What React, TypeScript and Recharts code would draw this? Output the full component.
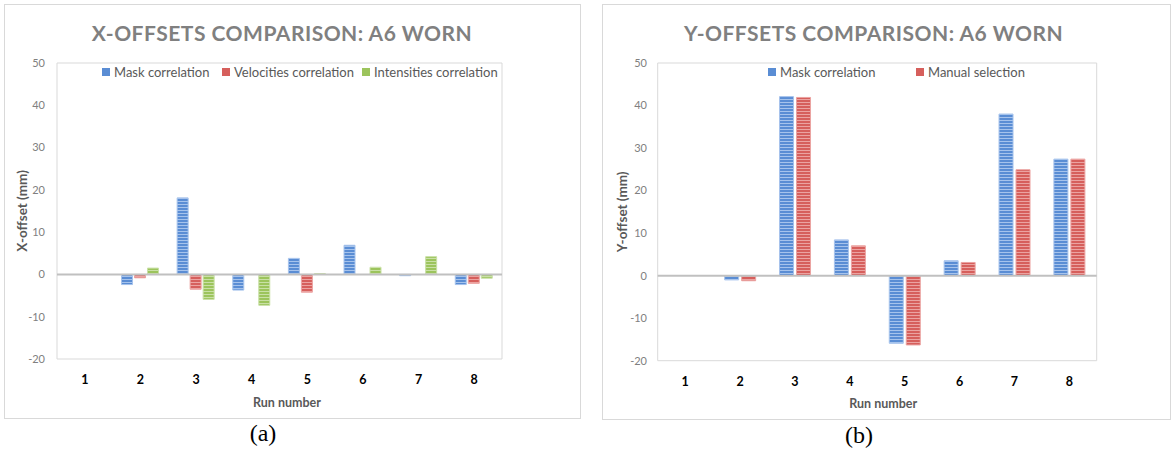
import React from 'react';
import { BarChart, Bar, XAxis, YAxis, ReferenceLine, ReferenceArea } from 'recharts';

// ---------- data ----------
const runs = ['1', '2', '3', '4', '5', '6', '7', '8'];
const yTicks = [-20, -10, 0, 10, 20, 30, 40, 50];

// (a) X-offsets (mm)
const xMask = [0, -2.4, 18.1, -3.7, 3.8, 6.9, -0.3, -2.4];
const xVelocities = [0, -0.8, -3.5, 0, -4.2, 0, 0, -2.1];
const xIntensities = [0, 1.5, -5.9, -7.3, 0.2, 1.7, 4.2, -0.9];

// (b) Y-offsets (mm)
const yMask = [0, -1.0, 42.1, 8.4, -15.9, 3.5, 38.0, 27.4];
const yManual = [0, -1.2, 41.9, 7.0, -16.3, 3.1, 24.9, 27.4];

const xData = runs.map((r, i) => ({ run: r, mask: xMask[i], vel: xVelocities[i], int: xIntensities[i] }));
const yData = runs.map((r, i) => ({ run: r, mask: yMask[i], manual: yManual[i] }));

// ---------- style ----------
const FONT = 'Lato, "Open Sans", "Liberation Sans", sans-serif';
const BLUE = { id: 'stripeBlue', dark: '#5a8dd4', light: '#a6c3ec' };
const RED = { id: 'stripeRed', dark: '#d65f5c', light: '#eba3a1' };
const GREEN = { id: 'stripeGreen', dark: '#9cc45c', light: '#c9e0a6' };

const Patterns = () => (
  <defs>
    {[BLUE, RED, GREEN].map((c) => (
      <pattern key={c.id} id={c.id} width="4" height="3" patternUnits="userSpaceOnUse">
        <rect x="0" y="0" width="4" height="3" fill={c.dark} />
        <rect x="0" y="2" width="4" height="1" fill={c.light} />
      </pattern>
    ))}
  </defs>
);

const yLabel = (text: string, dx: number) => (props: any) => {
  const vb = props.viewBox || {};
  const cx = (vb.x || 0) + dx;
  const cy = (vb.y || 0) + (vb.height || 0) / 2;
  return (
    <text x={cx} y={cy} transform={`rotate(-90, ${cx}, ${cy})`} textAnchor="middle" dominantBaseline="central"
      fontFamily={FONT} fontSize={13.5} fontWeight={700} fill="#595959">{text}</text>
  );
};

const xLabel = (text: string, dx: number, dy: number) => (props: any) => {
  const vb = props.viewBox || {};
  const cx = (vb.x || 0) + (vb.width || 0) / 2 + dx;
  const cy = (vb.y || 0) + dy;
  return (
    <text x={cx} y={cy} textAnchor="middle" dominantBaseline="central"
      fontFamily={FONT} fontSize={12.5} fontWeight={700} fill="#595959">{text}</text>
  );
};

type LegendItem = { name: string; color: string; left: number };

const LegendOverlay = ({ items, top }: { items: LegendItem[]; top: number }) => (
  <>
    {items.map((it) => (
      <div key={it.name} style={{ position: 'absolute', left: it.left, top, display: 'flex', alignItems: 'center', whiteSpace: 'nowrap', fontFamily: FONT, fontSize: 13, color: '#595959', lineHeight: '16px' }}>
        <span style={{ display: 'inline-block', width: 8, height: 8, background: it.color, marginRight: 4 }} />
        {it.name}
      </div>
    ))}
  </>
);

const Title = ({ text, center }: { text: string; center: number }) => (
  <div style={{ position: 'absolute', left: center - 260, width: 520, top: 16, textAlign: 'center', fontFamily: FONT, fontWeight: 700, fontSize: 21, letterSpacing: 0.5, color: '#808080', lineHeight: '26px' }}>{text}</div>
);

const tickStyle = { fontFamily: FONT, fontSize: 11, fill: '#808080' };
const xTickStyle = { fontFamily: FONT, fontSize: 12.5, fontWeight: 700, fill: '#000' };

const panelStyle = (left: number, width: number, height: number): React.CSSProperties => ({
  position: 'absolute', left, top: 4, width, height, border: '1px solid #d9d9d9', boxSizing: 'border-box', background: '#fff',
});

const captionStyle = (left: number, top: number): React.CSSProperties => ({
  position: 'absolute', left, width: 100, top, textAlign: 'center', fontFamily: '"Liberation Serif", "DejaVu Serif", serif', fontSize: 24, lineHeight: '28px', color: '#000',
});

export default function App() {
  const AW = 577, AH = 415;
  const BW = 569, BH = 416;
  return (
    <div style={{ position: 'absolute', left: 0, top: 0, width: 1171, height: 452, background: '#fff', overflow: 'hidden' }}>
      {/* panel (a) */}
      <div style={panelStyle(4, AW, AH)}>
        <div style={{ position: 'absolute', left: -1, top: -1 }}>
          <BarChart width={AW} height={AH} data={xData} margin={{ top: 59, right: 79, bottom: 0, left: 0 }}
            barCategoryGap="16%" barGap={2}>
            <Patterns />
            <ReferenceArea y1={-20} y2={50} fill="none" stroke="#d9d9d9" strokeWidth={1} ifOverflow="visible" />
            <XAxis dataKey="run" height={60} tickLine={false} axisLine={false} tick={xTickStyle} tickMargin={10}
              label={{ content: xLabel('Run number', 7.5, 43) }} />
            <YAxis width={53} domain={[-20, 50]} ticks={yTicks} tickLine={false} axisLine={false} tickSize={0}
              tickMargin={12} tick={tickStyle} label={{ content: yLabel('X-offset (mm)', 18) }} />
            <Bar dataKey="mask" name="Mask correlation" fill={`url(#${BLUE.id})`} stroke={BLUE.light} strokeWidth={1} isAnimationActive={false} />
            <Bar dataKey="vel" name="Velocities correlation" fill={`url(#${RED.id})`} stroke={RED.light} strokeWidth={1} isAnimationActive={false} />
            <Bar dataKey="int" name="Intensities correlation" fill={`url(#${GREEN.id})`} stroke={GREEN.light} strokeWidth={1} isAnimationActive={false} />
            <ReferenceLine y={0} stroke="#c0c0c0" strokeWidth={2} />
          </BarChart>
          <Title text="X-OFFSETS COMPARISON: A6 WORN" center={278} />
          <LegendOverlay top={60} items={[
            { name: 'Mask correlation', color: BLUE.dark, left: 98 },
            { name: 'Velocities correlation', color: RED.dark, left: 218 },
            { name: 'Intensities correlation', color: GREEN.dark, left: 358 },
          ]} />
        </div>
      </div>

      {/* panel (b) */}
      <div style={panelStyle(602, BW, BH)}>
        <div style={{ position: 'absolute', left: -1, top: -1 }}>
          <BarChart width={BW} height={BH} data={yData} margin={{ top: 59, right: 74.3, bottom: 0, left: 0 }}
            barCategoryGap="22%" barGap={3}>
            <Patterns />
            <ReferenceArea y1={-20} y2={50} fill="none" stroke="#d9d9d9" strokeWidth={1} ifOverflow="visible" />
            <XAxis dataKey="run" height={59.3} tickLine={false} axisLine={false} tick={xTickStyle} tickMargin={10}
              label={{ content: xLabel('Run number', 6, 43) }} />
            <YAxis width={55.7} domain={[-20, 50]} ticks={yTicks} tickLine={false} axisLine={false} tickSize={0}
              tickMargin={10.7} tick={tickStyle} label={{ content: yLabel('Y-offset (mm)', 20) }} />
            <Bar dataKey="mask" name="Mask correlation" fill={`url(#${BLUE.id})`} stroke={BLUE.light} strokeWidth={1} isAnimationActive={false} />
            <Bar dataKey="manual" name="Manual selection" fill={`url(#${RED.id})`} stroke={RED.light} strokeWidth={1} isAnimationActive={false} />
            <ReferenceLine y={0} stroke="#c0c0c0" strokeWidth={2} />
          </BarChart>
          <Title text="Y-OFFSETS COMPARISON: A6 WORN" center={271.5} />
          <LegendOverlay top={60} items={[
            { name: 'Mask correlation', color: BLUE.dark, left: 166 },
            { name: 'Manual selection', color: RED.dark, left: 314 },
          ]} />
        </div>
      </div>

      {/* captions */}
      <div style={captionStyle(213, 419)}>(a)</div>
      <div style={captionStyle(809, 421)}>(b)</div>
    </div>
  );
}
